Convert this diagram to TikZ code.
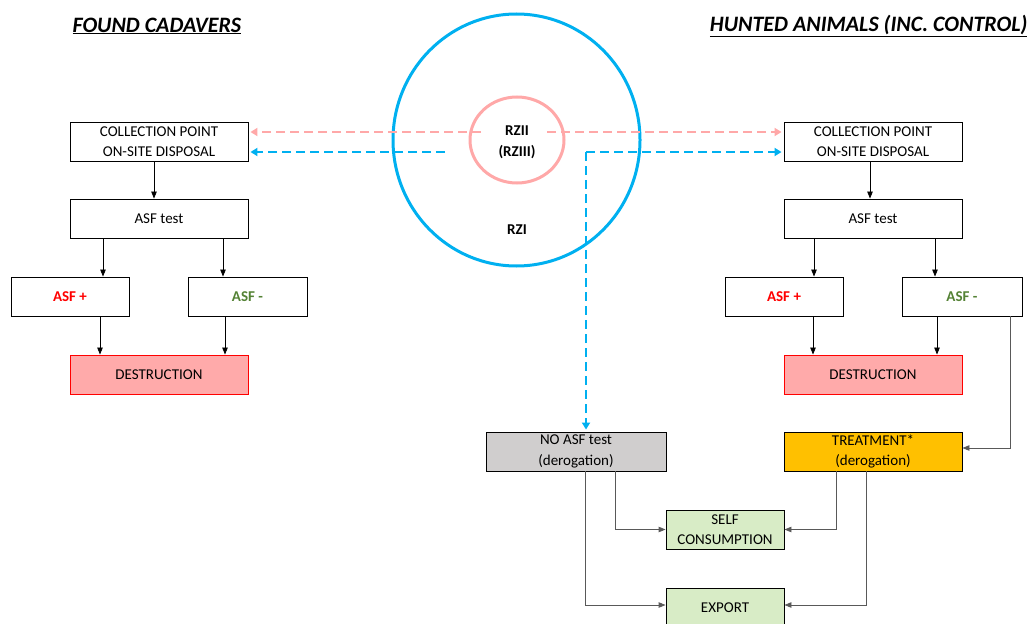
\documentclass[tikz,border=0pt]{standalone}
\usepackage{fontspec}
\setmainfont{Carlito}
\usetikzlibrary{arrows.meta,calc}
\definecolor{zblue}{HTML}{00B0F0}
\definecolor{zpink}{HTML}{FFA8A8}
\definecolor{dfill}{HTML}{FFAAAA}
\definecolor{tfill}{HTML}{FFC000}
\definecolor{gfill}{HTML}{D8ECC6}
\definecolor{nfill}{HTML}{D0CECE}
\definecolor{agreen}{HTML}{548235}
\definecolor{lgray}{HTML}{595959}
\begin{document}
\begin{tikzpicture}[x=1pt,y=-1pt,
  box/.style={draw=black,line width=0.9pt,minimum width=178pt,minimum height=39pt,inner sep=0pt,align=center,font=\fontsize{15}{20.5}\selectfont},
  sbox/.style={box,minimum width=118pt},
  arr/.style={draw=black,line width=0.8pt,-{Triangle[length=7pt,width=5.5pt]}},
  garr/.style={draw=lgray,line width=0.9pt,-{Triangle[length=7pt,width=5.5pt]}},
  bdash/.style={draw=zblue,line width=2.6pt,dash pattern=on 9pt off 5pt,-{Triangle[length=7pt,width=8pt]}},
  pdash/.style={draw=zpink,line width=2.6pt,dash pattern=on 9pt off 5pt,-{Triangle[length=7pt,width=8pt]}},
  ttl/.style={font=\fontsize{22}{26}\selectfont\bfseries\itshape},
  zlab/.style={font=\fontsize{15}{20}\selectfont\bfseries}
]
\useasboundingbox (0,0) rectangle (1032,623);
% titles
\node[ttl,anchor=west] (t1) at (69,26) {\underline{FOUND CADAVERS}};
\node[ttl,anchor=east] (t2) at (1031,26) {\underline{HUNTED ANIMALS (INC. CONTROL)}};
% circles
\draw[zblue,line width=3pt] (516.5,140) ellipse [x radius=123.5pt, y radius=126pt];
\draw[zpink,line width=3pt] (517,140) ellipse [x radius=47pt, y radius=43pt];
\node[zlab] (rz2) at (517,131) {RZII};
\node[zlab] (rz3) at (517,152) {(RZIII)};
\node[zlab] (rz1) at (517,230) {RZI};
% left column
\node[box] (lcp) at (159,141.5) {COLLECTION POINT\\ON-SITE DISPOSAL};
\node[box] (lt) at (159,218.5) {ASF test};
\node[sbox] (lap) at (70,296.5) {\textbf{\color{red}ASF +}};
\node[sbox,minimum width=119pt] (lam) at (247.5,296.5) {\textbf{\color{agreen}ASF -}};
\node[box,draw=red,fill=dfill] (ld) at (159,374.5) {DESTRUCTION};
% right column
\node[box] (rcp) at (873,141.5) {COLLECTION POINT\\ON-SITE DISPOSAL};
\node[box] (rt) at (873,218.5) {ASF test};
\node[sbox] (rap) at (784,296.5) {\textbf{\color{red}ASF +}};
\node[sbox,minimum width=120pt] (ram) at (962,296.5) {\textbf{\color{agreen}ASF -}};
\node[box,draw=red,fill=dfill] (rd) at (873,374.5) {DESTRUCTION};
% bottom
\node[box,minimum width=180pt,fill=nfill] (noasf) at (576,451.5) {NO ASF test\\(derogation)};
\node[box,fill=tfill] (treat) at (873,451.5) {TREATMENT*\\(derogation)};
\node[sbox,fill=gfill] (self) at (725,529.5) {SELF\\CONSUMPTION};
\node[sbox,fill=gfill] (exp) at (725,607.5) {EXPORT};
% left arrows
\draw[arr] ([xshift=-5pt]lcp.south) -- ([xshift=-5pt]lt.north);
\draw[arr] ([xshift=33pt]lap.north |- lt.south) -- ([xshift=33pt]lap.north);
\draw[arr] ([xshift=-24.5pt]lam.north |- lt.south) -- ([xshift=-24.5pt]lam.north);
\draw[arr] ([xshift=30pt]lap.south) -- ([xshift=30pt]lap.south |- ld.north);
\draw[arr] ([xshift=-22.5pt]lam.south) -- ([xshift=-22.5pt]lam.south |- ld.north);
% right arrows
\draw[arr] ([xshift=-3pt]rcp.south) -- ([xshift=-3pt]rt.north);
\draw[arr] ([xshift=30pt]rap.north |- rt.south) -- ([xshift=30pt]rap.north);
\draw[arr] ([xshift=-27pt]ram.north |- rt.south) -- ([xshift=-27pt]ram.north);
\draw[arr] ([xshift=29pt]rap.south) -- ([xshift=29pt]rap.south |- rd.north);
\draw[arr] ([xshift=-25pt]ram.south) -- ([xshift=-25pt]ram.south |- rd.north);
\draw[garr] ([xshift=48pt]ram.south) |- ([yshift=3.5pt]treat.east);
% bottom arrows
\draw[garr] ([xshift=9pt]noasf.south) |- ([yshift=2.5pt]exp.west);
\draw[garr] ([xshift=39pt]noasf.south) |- (self.west);
\draw[garr] ([xshift=-37pt]treat.south) |- (self.east);
\draw[garr] ([xshift=-7pt]treat.south) |- ([yshift=2.5pt]exp.east);
% dashed connectors
\coordinate (pl) at (481,132);
\coordinate (pr) at (547,132);
\coordinate (bl) at (445,152);
\coordinate (bc) at (586,152);
\draw[pdash] (pl) -- ([yshift=9.5pt,xshift=2pt]lcp.east);
\draw[pdash] (pr) -- ([yshift=9.5pt,xshift=-2pt]rcp.west);
\draw[bdash] (bl) -- ([yshift=-10.5pt,xshift=2pt]lcp.east);
\draw[bdash] (bc) -- ([yshift=-10.5pt,xshift=-2pt]rcp.west);
\draw[bdash] (bc) -- ([xshift=10pt,yshift=2pt]noasf.north);
\end{tikzpicture}
\end{document}
